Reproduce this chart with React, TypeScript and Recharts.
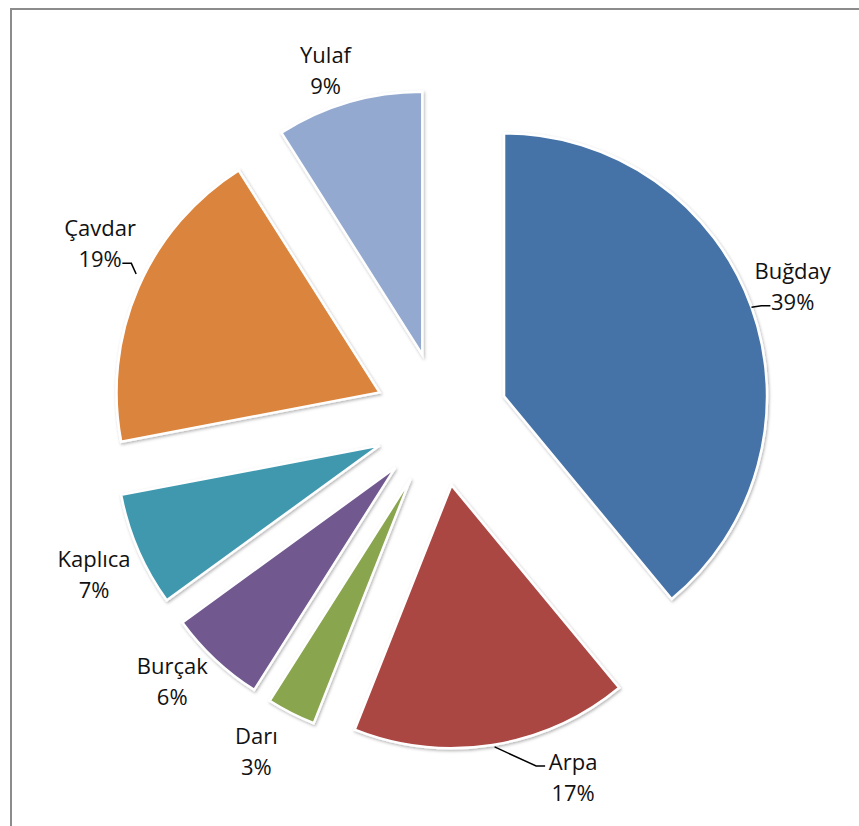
import { Pie, PieChart, Sector } from 'recharts'

const CROPS = ['Buğday', 'Arpa', 'Darı', 'Burçak', 'Kaplıca', 'Çavdar', 'Yulaf']
const SHARES = [39, 17, 3, 6, 7, 19, 9]
const COLORS = ['#4572a7', '#aa4643', '#89a54e', '#71588f', '#4198af', '#db843d', '#93a9cf']

const data = CROPS.map((name, i) => ({ name, value: SHARES[i], fill: COLORS[i] }))

const W = 859
const H = 826
const CX = 441
const CY = 419
const R = 263
const EXPLODE = 67 // every slice pulled out this far along its mid angle
const RAD = Math.PI / 180
const FONT = '"Open Sans", "Noto Sans", sans-serif'
const LINE = 31

// labels Excel dragged away from their default spot, with a leader line back to the slice
const LEADERS = ['Buğday', 'Çavdar', 'Arpa']
const NUDGE: Record<string, [number, number]> = {
  Buğday: [-4, -9],
  Çavdar: [6, -30],
  Arpa: [73, -6],
  Yulaf: [-10, 4],
  Kaplıca: [0, 8],
  Burçak: [-10, -7],
  Darı: [-13, 4],
}

function ExplodedSlice(props: any) {
  const dx = Math.cos(-props.midAngle * RAD) * EXPLODE
  const dy = Math.sin(-props.midAngle * RAD) * EXPLODE
  return (
    <g filter="url(#slice-shadow)">
      <Sector
        cx={props.cx + dx}
        cy={props.cy + dy}
        innerRadius={0}
        outerRadius={props.outerRadius}
        startAngle={props.startAngle}
        endAngle={props.endAngle}
        fill={props.fill}
        stroke="#ffffff"
        strokeWidth={2.5}
      />
    </g>
  )
}

function SliceLabel(props: any) {
  const { cx, cy, midAngle, outerRadius, name, percent } = props
  const cos = Math.cos(-midAngle * RAD)
  const sin = Math.sin(-midAngle * RAD)
  const ax = cx + cos * (EXPLODE + outerRadius)
  const ay = cy + sin * (EXPLODE + outerRadius)
  const [nx, ny] = NUDGE[name] ?? [0, 0]
  const lx = ax + cos * 48 + nx
  const ly = ay + sin * 38 + ny
  const pct = `${Math.round(percent * 100)}%`

  let leader = null
  if (LEADERS.includes(name)) {
    const nearTop = ay < ly
    const txt = nearTop ? name : pct
    const lineY = (nearTop ? ly - LINE / 2 : ly + LINE / 2) + 5
    const half = (txt.length * 11.5) / 2
    const side = ax < lx ? -1 : 1
    const ex = lx + side * (half + 5)
    const bx = ex + side * 9
    // attach to the arc where the leader meets it, a little toward the label
    const sx = Math.abs(ay - lineY) < 6 ? ax : ax - side * 2
    const sy = Math.abs(ay - lineY) < 6 ? ay : ay + (lineY < ay ? -14 : 2)
    leader = (
      <polyline
        points={`${sx},${sy} ${bx},${lineY} ${ex},${lineY}`}
        fill="none"
        stroke="#000000"
        strokeWidth={1.5}
      />
    )
  }

  return (
    <g>
      {leader}
      <text x={lx} y={ly - LINE / 2} textAnchor="middle" dominantBaseline="central" fontFamily={FONT} fontSize={22} fill="#111111">
        {name}
      </text>
      <text x={lx} y={ly + LINE / 2} textAnchor="middle" dominantBaseline="central" fontFamily={FONT} fontSize={22} fill="#111111">
        {pct}
      </text>
    </g>
  )
}

export default function App() {
  return (
    <div style={{ position: 'absolute', left: 0, top: 0, width: W, height: H, overflow: 'hidden', background: '#ffffff' }}>
      <div
        style={{
          position: 'absolute',
          left: 10,
          top: 8,
          width: W + 20,
          height: H + 20,
          border: '2px solid #8c8c8c',
        }}
      />
      <div style={{ position: 'absolute', left: 0, top: 0 }}>
        <PieChart width={W} height={H} margin={{ top: 0, right: 0, bottom: 0, left: 0 }}>
          <defs>
            <filter id="slice-shadow" x="-20%" y="-20%" width="140%" height="140%">
              <feDropShadow dx="1" dy="1.5" stdDeviation="1.5" floodColor="#000000" floodOpacity="0.3" />
            </filter>
          </defs>
          <Pie
            data={data}
            dataKey="value"
            nameKey="name"
            cx={CX}
            cy={CY}
            outerRadius={R}
            startAngle={90}
            endAngle={-270}
            shape={ExplodedSlice}
            label={SliceLabel}
            labelLine={false}
            isAnimationActive={false}
          />
        </PieChart>
      </div>
    </div>
  )
}
